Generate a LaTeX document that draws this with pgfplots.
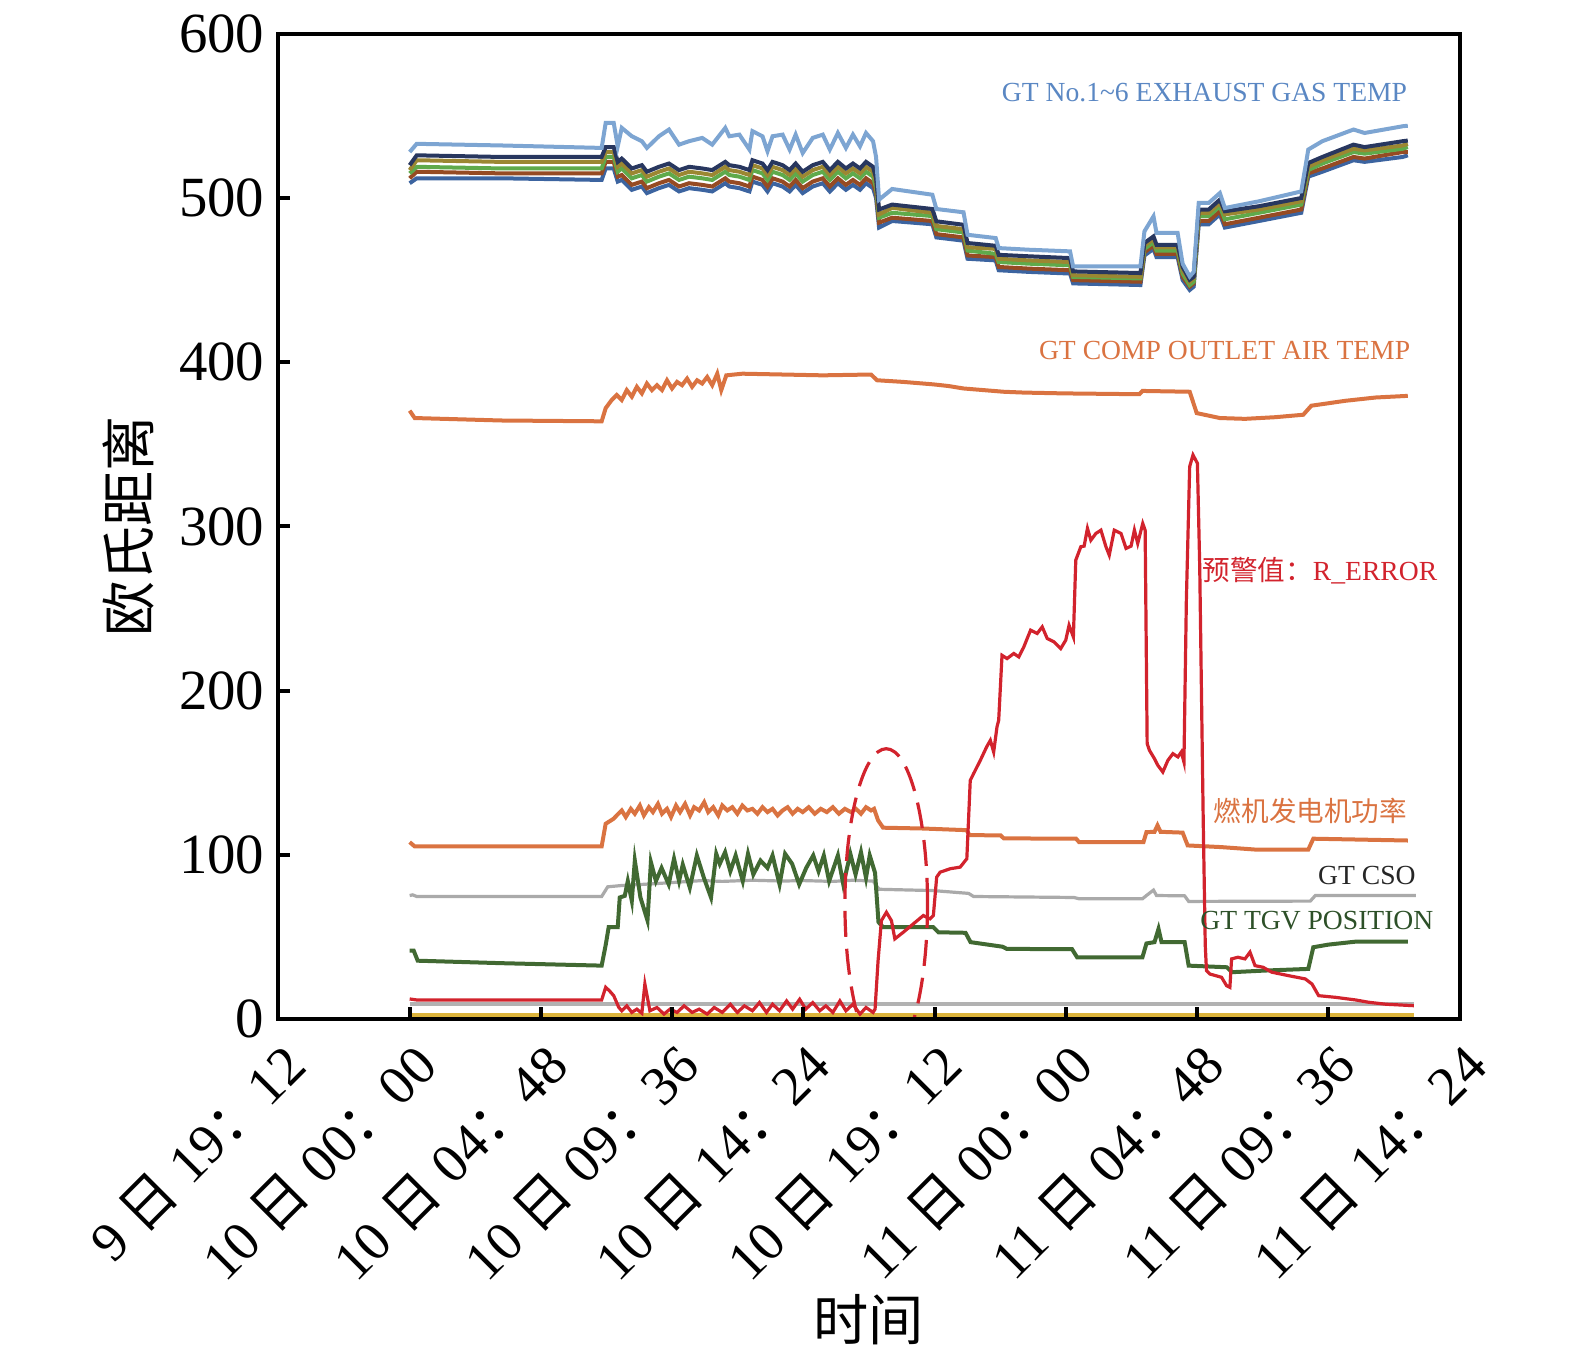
\documentclass[border=0pt]{standalone}
\usepackage{fontspec}
\setmainfont{Liberation Serif}
\newfontfamily\cjk{Noto Sans CJK SC}
\usepackage{pgfplots}
\usepackage{pgfplotstable}
\pgfplotsset{compat=1.18}

\definecolor{cLB}{RGB}{125,165,210}
\definecolor{cNV}{RGB}{40,55,95}
\definecolor{cOL}{RGB}{155,135,50}
\definecolor{cGR}{RGB}{95,170,75}
\definecolor{cBR}{RGB}{150,75,35}
\definecolor{cBL}{RGB}{60,100,160}
\definecolor{cOR}{RGB}{218,115,65}
\definecolor{cRD}{RGB}{210,35,45}
\definecolor{cTG}{RGB}{65,105,50}
\definecolor{cCS}{RGB}{170,170,170}
\definecolor{cGD}{RGB}{220,180,60}
\definecolor{cLBt}{RGB}{90,135,195}
\definecolor{cTGt}{RGB}{45,80,40}

% x positions are read in picture units (px); converted to hours after 9日19:12
\pgfplotstableread{
px lb nv ol gr br bl
409 528 520 517 515 512 509
416 533 526 523 519 516 512
500 532 525 522 518 515 512
600 530.5 525 522 518 515 511
604 545.7 531 528 525 522 518
612 545.7 531 528 525 522 518
616 531.5 522 519 516 513 510
620 542.7 524 521 518 514 511
630 537.6 518 515 512 508 505
640 534.6 520 517 514 510 507
645 530.5 516 513 510 506 503
657 537.6 519 516 513 509 506
667 541.7 521 518 515 511 508
677 532.5 517 514 511 507 504
687 534.6 519 516 513 509 506
700 536.6 518 515 512 508 505
710 532.5 517 514 511 507 504
723 542.7 522 519 516 512 509
727 537.6 520 517 514 510 507
737 538.6 519 516 513 509 506
747 529.5 517 514 511 507 504
750 540.7 523 520 517 513 510
760 537.6 521 518 515 511 508
765 528.5 517 514 511 507 504
770 537.6 522 519 516 512 509
780 538.6 520 517 514 510 507
787 529.5 517 514 511 507 504
793 538.6 521 518 515 511 508
800 527.4 516 513 510 506 503
810 536.6 520 517 514 510 507
820 538.6 522 519 516 512 509
827 529.5 517 514 511 507 504
835 539.6 522 519 516 512 509
843 530.5 518 515 512 508 505
850 538.6 521 518 515 511 508
857 531.5 518 515 512 508 505
863 539.6 522 519 516 512 509
870 534.6 519 516 513 509 506
873 525 512 509 506 503 500
876 499 493 490 488 485 482
889 505.5 496 494 491 488 486
929 502 493.3 491 489 486 484
933 493.3 485.8 483 481 478 476
960 491.3 483.7 481 479 476 474
964 477.6 472.6 470 468 465 463
992 475.6 470.9 469 466 464 462
995 469.5 465.4 463 461 458 456
1025 468.5 464.5 462 460 457 455
1066 467.5 463.4 461 459 456 454
1069 458.4 455.3 453 452 450 448
1136 458.4 454.3 452 451 449 447
1140 479.7 472.6 471 469 467 465
1149 488.8 476.6 475 473 471 469
1152 478.7 471.5 470 468 466 464
1173 478.7 471.5 470 468 466 464
1178 460 458 456 454 452 450
1185 452.2 450.2 449 447 446 444
1189 455 452 451 449 448 446
1194 497 492.9 491 489 486 484
1204 497 493 491 489 486 484
1215 503 499 497 495 492 490
1220 493.9 491.9 490 487 484 482
1254 498 495 493 491 488 486
1296 504 500 498 496 493 491
1303 529.5 521.3 519 517 515 513
1317 534.6 525 523 521 518 516
1348 541.7 532.5 530 528 525 523
1359 539.6 531 529 527 524 522
1397 543.7 534.6 532 530 528 525
1402 544 535 533 531 528 526
}\exh

\pgfplotstableread{
px v
409 370.5
414 366
500 364.5
600 364
604 372
610 377
615 380
620 377
625 383
630 379
635 385
640 381
645 387
650 383
655 386
660 383
665 389
670 384
675 388
680 386
685 390
690 385
695 389
700 387
705 391
710 386
715 393
719 383
724 392
740 393
780 392.5
820 392
868 392.5
874 389
900 388
930 386.5
945 385.5
960 384
1000 382
1020 381.5
1060 381
1135 380.5
1138 382.5
1185 382
1192 369
1215 366
1240 365.5
1270 366.5
1298 368
1306 373.5
1340 376.5
1370 378.5
1402 379.5
}\comp

\pgfplotstableread{
px v
409 107.7
414 105.1
600 105.1
604 118.9
612 122
615 124
620 127
624 123
629 128
633 125
638 130
642 124
647 129
651 126
656 131
660 125
665 128
669 123
674 130
678 126
683 131
688 124
692 129
697 127
702 132
706 126
711 129
716 124
720 130
725 127
730 129
735 125
740 130
745 127
750 128
755 125
760 129
765 126
770 128
775 124
780 127
785 129
790 125
795 128
800 126
806 129
812 125
818 128
824 126
830 129
836 125
842 128
848 126
853 128
858 125
863 129
868 127
871 128
875 121
880 116.5
920 116
963 115
966 112
997 111.8
1000 110
1072 109.8
1075 107.7
1139 107.7
1142 113.8
1150 114
1153 117.9
1156 114
1178 113.5
1183 105.7
1216 104.7
1250 103.2
1303 103.2
1308 109.8
1402 108.7
}\power

\pgfplotstableread{
px v
409 75.2
412 75.6
416 74.6
600 74.6
606 80.5
620 81.3
650 82.3
680 83.5
700 84.3
720 83.8
750 84.5
780 84
800 84.3
830 83.8
850 84.5
870 84
876 79
930 78.2
965 76.5
970 74.6
1070 74
1075 73.2
1138 73.2
1142 75.2
1149 78.5
1152 75.2
1180 75
1184 71.6
1305 71.8
1310 75.2
1410 75.2
}\cso

\pgfplotstableread{
px v
409 41.6
413 41.6
417 35.5
500 34
600 32.5
604 45
607 55.9
616 56
618 74
623 75
626 84
630 72
633 96.5
638.6 74
645.6 60
649 95.5
654 84
659.6 92
666.7 82
672 97.6
677 84
680.7 94
687.7 80
694.7 99.6
701.7 86
708.8 74
714 100.6
717.5 94.5
722.8 101.6
728 90
733.3 99.6
740.4 84
745.6 100.6
750.9 88
758 96.5
765 92
770 99.6
777 82
782.5 100.6
789.5 94.5
796.5 82
803.5 92
810.5 99.6
815.8 90
821 99.6
826.3 84
835 99.6
840.4 82
847.4 100.6
852.6 88
858 101.6
863 86
866.7 99.6
872 89
875.4 59
880 56
930 55.9
935 52.8
962 52.5
967 46.8
999 44
1003 42.7
1068 42.5
1073 37.6
1138 37.6
1142 46
1150 46.8
1154 54.9
1157 46.8
1180 46.8
1184 32.5
1222 31.5
1227 28.5
1260 29.5
1303 30.5
1308 43.7
1323 45.3
1350 47.1
1402 47.1
}\tgv

\pgfplotstableread{
px v
409 12.2
416 11.6
600 11.6
604 19.3
608 17
612 14.2
617 7.1
620 5
625 8
630 4
635 6
640 3.5
643 21.3
648 5
655 7
662 3
668 6
675 4
682 8
690 4
697 6
705 3
712 7
720 4
728 9
735 4
742 8
750 5
757 10
764 4
770 9
777 5
784 11
790 6
797 12
803 6
810 10
817 5
823 8
830 4
837 11
843 5
850 9
857 3
863 7
870 4
872 6
875 35.5
878.3 59.9
883.3 65
888.3 59.9
891.7 48.8
900 52.8
910 57.9
920 63
926.7 61
930 63
933.3 86.4
936.7 89.4
946.7 91.5
956.7 92.5
963.3 97.6
966.7 145.3
970 149.4
976.7 157.5
983 165.7
986.7 169.7
990 162.6
993.3 177.9
995 182
998.3 221.5
1003.3 219.5
1010 222.6
1015 220.5
1020 226.6
1026.7 236.8
1033.3 234.8
1038.3 238.8
1043.3 231.7
1050 229.7
1056.7 225.6
1061.7 230.7
1065 239.8
1069.3 232.7
1071.7 279.5
1076.7 287.6
1080 288
1083.3 298.8
1086.7 291.6
1091.7 295.7
1096.7 297.7
1101.7 287.6
1105 282.5
1110 297.7
1116.7 295.7
1121.7 286.6
1126.7 288
1130 297.7
1133.3 289.6
1138.3 301.8
1140.7 297.7
1142.7 167.7
1145 163.6
1150 158.5
1153.3 154.5
1158.3 150.4
1163.3 157.5
1168.3 161.6
1173.3 159.6
1176.7 162.6
1179.3 156.5
1181.7 255
1185 336.4
1188.3 343.5
1192.7 338.4
1195 275.4
1198.5 120
1200.5 45
1201.7 29.5
1205 27.4
1216.7 25.4
1221.7 20.3
1225 19.3
1226.7 36.6
1233 37.6
1240 36.6
1245 40.7
1250 32.5
1258 31.5
1266.7 28.5
1283.3 26.4
1300 24.4
1306.7 21.3
1313.3 14.2
1330 13.2
1350 11.6
1363 10.2
1380 9
1408 8.1
}\rerr

\pgfplotstableread{
px g c
409 2.4 9.1
1408 2.4 9.1
}\base

\begin{document}
\begin{tikzpicture}
\path[use as bounding box] (-69.6pt,-85pt) rectangle (324.15pt,254.75pt);
\begin{axis}[
  at={(0,0)}, anchor=south west,
  scale only axis,
  width=295.3pt, height=246.3pt,
  xmin=0, xmax=43.2, ymin=0, ymax=600,
  xtick={0,4.8,9.6,14.4,19.2,24,28.8,33.6,38.4,43.2},
  xticklabels={
    9 {\cjk 日} 19{\cjk ：}12,
    10 {\cjk 日} 00{\cjk ：}00,
    10 {\cjk 日} 04{\cjk ：}48,
    10 {\cjk 日} 09{\cjk ：}36,
    10 {\cjk 日} 14{\cjk ：}24,
    10 {\cjk 日} 19{\cjk ：}12,
    11 {\cjk 日} 00{\cjk ：}00,
    11 {\cjk 日} 04{\cjk ：}48,
    11 {\cjk 日} 09{\cjk ：}36,
    11 {\cjk 日} 14{\cjk ：}24},
  ytick={0,100,200,300,400,500,600},
  /pgf/number format/assume math mode=true,
  xtick pos=bottom, ytick pos=left,
  tick align=inside,
  major tick length=3pt,
  every tick/.style={black, line width=1pt},
  axis line style={line width=1pt},
  axis on top,
  tick label style={font=\fontsize{14.2}{16}\selectfont},
  xticklabel style={rotate=45, anchor=north east, font=\fontsize{13.8}{16}\selectfont},
  xlabel={{\cjk 时间}},
  ylabel={{\cjk 欧氏距离}},
  label style={font=\fontsize{13.8}{16}\selectfont},
  xlabel style={at={(axis description cs:0.5,-0.305)}, anchor=center},
  ylabel style={at={(axis description cs:-0.127,0.5)}, anchor=center},
  clip=true,
]
% exhaust gas temperatures
\addplot[cBL, line width=1pt] table[x expr={(\thisrow{px}-278.4)*4.8/130.57}, y=bl] {\exh};
\addplot[cBR, line width=1pt] table[x expr={(\thisrow{px}-278.4)*4.8/130.57}, y=br] {\exh};
\addplot[cGR, line width=1pt] table[x expr={(\thisrow{px}-278.4)*4.8/130.57}, y=gr] {\exh};
\addplot[cOL, line width=1pt] table[x expr={(\thisrow{px}-278.4)*4.8/130.57}, y=ol] {\exh};
\addplot[cNV, line width=1pt] table[x expr={(\thisrow{px}-278.4)*4.8/130.57}, y=nv] {\exh};
\addplot[cLB, line width=1pt] table[x expr={(\thisrow{px}-278.4)*4.8/130.57}, y=lb] {\exh};
% compressor outlet air temp
\addplot[cOR, line width=1pt] table[x expr={(\thisrow{px}-278.4)*4.8/130.57}, y=v] {\comp};
% generator power
\addplot[cOR, line width=1pt] table[x expr={(\thisrow{px}-278.4)*4.8/130.57}, y=v] {\power};
% CSO
\addplot[cCS, line width=0.8pt] table[x expr={(\thisrow{px}-278.4)*4.8/130.57}, y=v] {\cso};
% TGV
\addplot[cTG, line width=1pt] table[x expr={(\thisrow{px}-278.4)*4.8/130.57}, y=v] {\tgv};
% baselines
\addplot[cGD, line width=1pt] table[x expr={(\thisrow{px}-278.4)*4.8/130.57}, y=g] {\base};
\addplot[black!30, line width=0.8pt] table[x expr={(\thisrow{px}-278.4)*4.8/130.57}, y=c] {\base};
% R_ERROR
\addplot[cRD, line width=0.8pt] table[x expr={(\thisrow{px}-278.4)*4.8/130.57}, y=v] {\rerr};
% dashed ellipse
\begin{scope}
\clip (rel axis cs:0,0) rectangle (rel axis cs:1,1);
\draw[cRD, line width=0.8pt, dash pattern=on 6.5pt off 3pt] (axis cs:22.23,70.1) ellipse [x radius=1.51, y radius=94.5];
\end{scope}
% annotations
\node[anchor=east, text=cLBt, font=\fontsize{6.9}{8}\selectfont, inner sep=0pt] at (axis cs:41.31,564) {GT No.1\textasciitilde 6 EXHAUST GAS TEMP};
\node[anchor=east, text=cOR, font=\fontsize{6.9}{8}\selectfont, inner sep=0pt] at (axis cs:41.42,407.3) {GT COMP OUTLET AIR TEMP};
\node[anchor=east, text=cRD, font=\fontsize{6.9}{8}\selectfont, inner sep=0pt] at (axis cs:42.41,273.2) {{\cjk 预警值：}R\_ERROR};
\node[anchor=east, text=cOR, font=\fontsize{6.9}{8}\selectfont, inner sep=0pt] at (axis cs:41.31,126.8) {{\cjk 燃机发电机功率}};
\node[anchor=east, text=black!85, font=\fontsize{6.9}{8}\selectfont, inner sep=0pt] at (axis cs:41.62,87.2) {GT CSO};
\node[anchor=east, text=cTGt, font=\fontsize{6.9}{8}\selectfont, inner sep=0pt] at (axis cs:42.27,59.8) {GT TGV POSITION};
\end{axis}
\end{tikzpicture}
\end{document}
